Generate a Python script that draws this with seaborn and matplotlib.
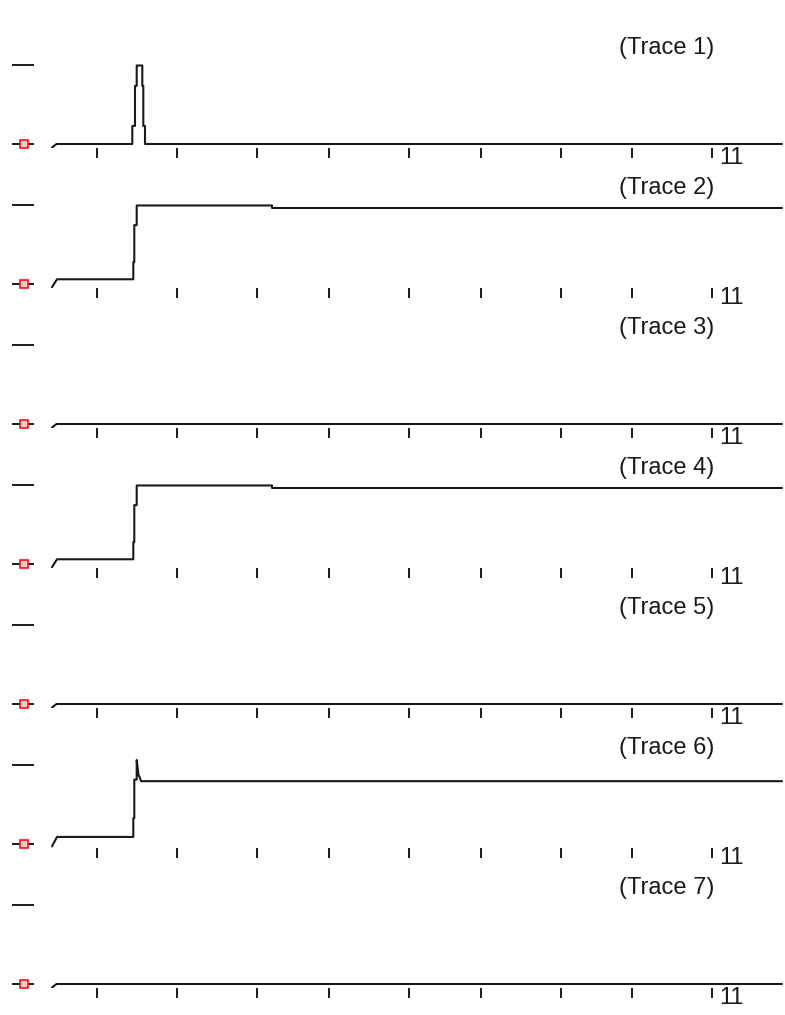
import numpy as np
import pandas as pd
import matplotlib
matplotlib.use("Agg")
import matplotlib.pyplot as plt
import seaborn as sns

# Datos (tiempo en muestras, nivel normalizado 0..1)
titulos = ["(Trace 1)", "(Trace 2)", "(Trace 3)", "(Trace 4)",
           "(Trace 5)", "(Trace 6)", "(Trace 7)"]

t_pulso = [0, 4.5, 80.3, 80.3, 83, 83, 84.7, 84.7, 90.3, 90.3, 91.3, 91.3, 93, 93, 730]
v_pulso = [-0.045, 0, 0, 0.23, 0.23, 0.74, 0.74, 1.0, 1.0, 0.74, 0.74, 0.23, 0.23, 0, 0]

t_escalon = [0, 5, 81.3, 81.3, 82.3, 82.3, 84.7, 84.7, 220, 220, 730]
v_escalon = [-0.04, 0.06, 0.06, 0.28, 0.28, 0.75, 0.75, 1.0, 1.0, 0.968, 0.968]

t_sobrepico = [0, 5, 81.3, 81.3, 82.3, 82.3, 84.7, 84.7, 86.5, 88, 89, 730]
v_sobrepico = [-0.03, 0.09, 0.09, 0.33, 0.33, 0.82, 0.82, 1.07, 0.88, 0.84, 0.80, 0.80]

t_plano = [0, 4.5, 730]
v_plano = [-0.045, 0, 0]

trazas = [(t_pulso, v_pulso), (t_escalon, v_escalon), (t_plano, v_plano),
          (t_escalon, v_escalon), (t_plano, v_plano), (t_sobrepico, v_sobrepico),
          (t_plano, v_plano)]

marcas_x = [45, 125, 205, 277, 357, 429, 509, 580, 660]
etiqueta_final = "11"
niveles_y = [0, 1]
x_ref = -28.5   # marcador rojo de referencia
x_eje_y = -18

sns.set_theme(style="white")
plt.rcParams["font.family"] = ["Liberation Sans", "DejaVu Sans"]

fig = plt.figure(figsize=(7.85, 10.15), dpi=100)
fig.patch.set_facecolor("white")

alto = 140 / 1015
margen = 8 / 1015
negro = "#1a1a1a"

for k, (titulo, (t, v)) in enumerate(zip(titulos, trazas)):
    ax = fig.add_axes([0, 1 - margen - alto * (k + 1), 1, alto])
    ax.set_facecolor("none")
    df = pd.DataFrame({"t": t, "v": v})
    sns.lineplot(data=df, x="t", y="v", estimator=None, sort=False,
                 color=negro, linewidth=1.5, ax=ax)
    ax.plot([x_ref], [0], marker="s", markersize=5.5, markerfacecolor="#ffc8c8",
            markeredgecolor="#ff1010", markeredgewidth=1.2, zorder=5)
    ax.set_xlim(-52, 733)
    ax.set_ylim(-0.051, 1.732)
    for lado in ["top", "right", "bottom", "left"]:
        ax.spines[lado].set_visible(False)
    ax.spines["left"].set_position(("data", x_eje_y))
    ax.set_xticks(marcas_x)
    ax.set_xticklabels([])
    ax.set_yticks(niveles_y)
    ax.set_yticklabels([])
    ax.tick_params(axis="x", direction="out", length=7.2, width=1.4,
                   color=negro, bottom=True)
    ax.tick_params(axis="y", direction="out", length=15.8, width=1.4,
                   color=negro, left=True)
    ax.set_xlabel("")
    ax.set_ylabel("")
    ax.annotate(etiqueta_final, xy=(marcas_x[-1], -0.051), xytext=(5, 0.5),
                textcoords="offset points", ha="left", va="top",
                fontsize=17, color=negro, annotation_clip=False)
    ax.text(0.849, 0.714, titulo, transform=ax.transAxes, ha="center",
            va="center", fontsize=17, color=negro)

fig.savefig("out.png", dpi=100, facecolor="white")
